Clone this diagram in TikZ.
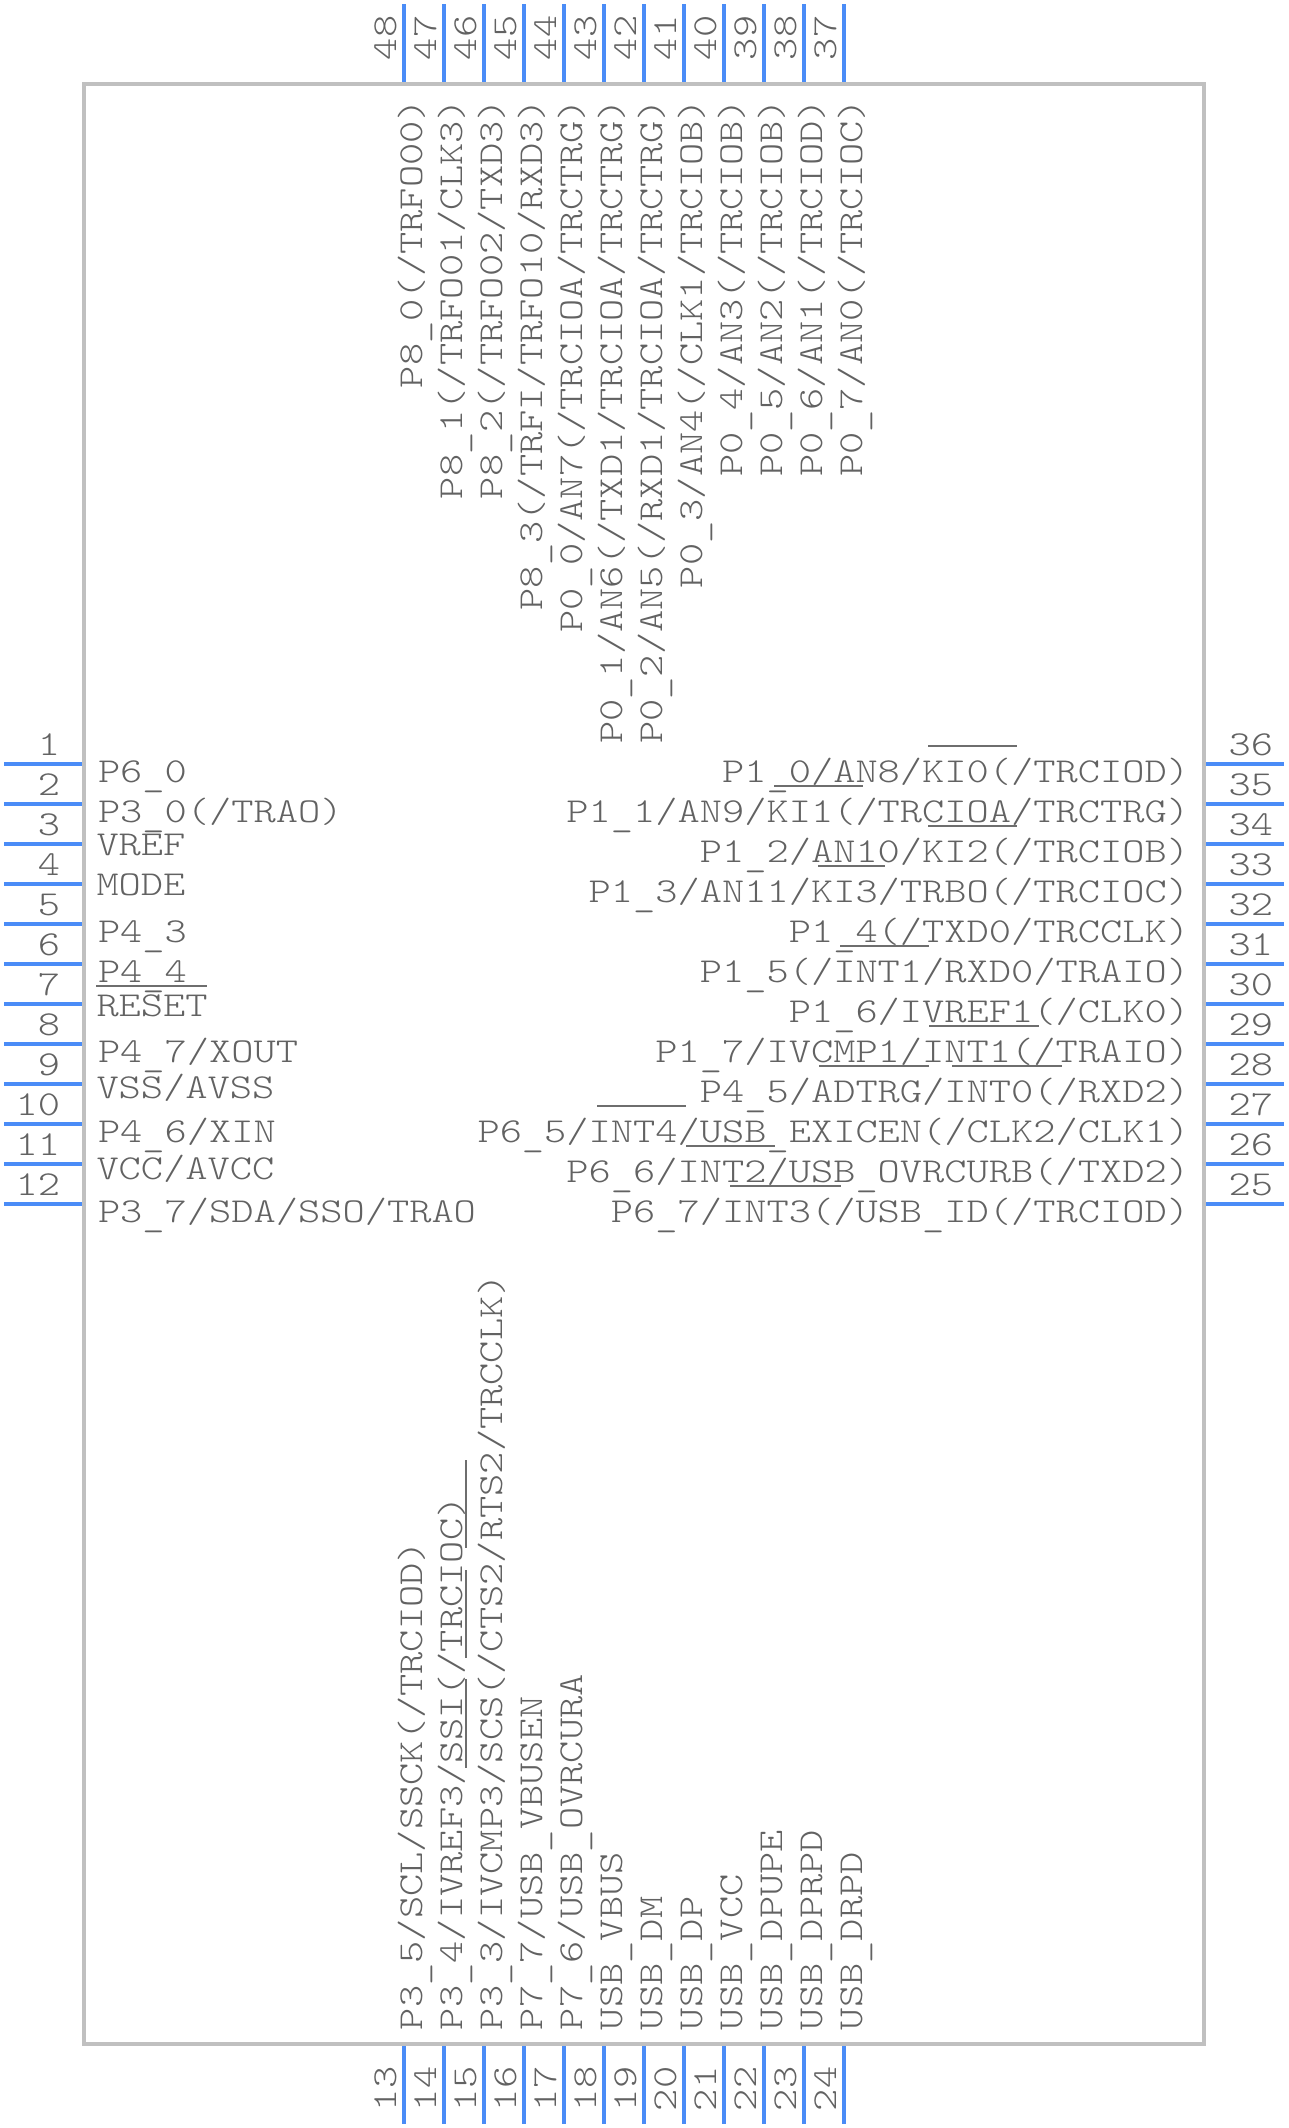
\documentclass[tikz,border=0pt]{standalone}
\usepackage{fontspec}
\newfontfamily\pinfont[FakeStretch=1.21]{Latin Modern Mono Light}
\usetikzlibrary{calc}
\definecolor{pinblue}{HTML}{4A8CF7}
\definecolor{boxgray}{HTML}{C0C0C0}
\definecolor{txtgray}{HTML}{626262}
\definecolor{bargray}{HTML}{6E6E6E}
\begingroup
\catcode`\_=\active
\gdef_{\raisebox{-4pt}{\string_}}
\endgroup
\AtBeginDocument{\catcode`\_=\active}
\tikzset{
  x=1pt,y=-1pt,
  pinline/.style={draw=pinblue,line width=4pt},
  body/.style={draw=boxgray,line width=4pt},
  bar/.style={draw=bargray,line width=2pt},
  lbl/.style={inner sep=0pt,outer sep=0pt,text=txtgray,font=\pinfont\fontsize{35}{35}\selectfont},
}
\begin{document}
\begin{tikzpicture}
\useasboundingbox (0,0) rectangle (1288,2128);
\draw[body] (84,84) rectangle (1204,2044);
% left
\foreach \n/\t/\xx/\off [count=\i from 0] in {1/{P6_0}/98/18.5,2/{P3_0(/TRAO)}/98/18.5,3/{VREF}/96.5/11.5,4/{MODE}/96.5/12,5/{P4_3}/98/18.5,6/{P4_4}/98/18.5,7/{RESET}/96.5/12.5,8/{P4_7/XOUT}/98/18.5,9/{VSS/AVSS}/96.5/14.5,10/{P4_6/XIN}/98/18.5,11/{VCC/AVCC}/96.5/15.5,12/{P3_7/SDA/SSO/TRAO}/98/18.5}{
  \coordinate (la\n) at (4,763.7+40*\i);
  \coordinate (lb\n) at (82,763.7+40*\i);
  \draw[pinline] (la\n) -- (lb\n);
  \node[lbl,anchor=base east] (ln\n) at (60,755.7+40*\i) {\n};
  \node[lbl,anchor=base west] (lt\n) at (\xx,763.7+40*\i+\off) {\t};
}
% right
\foreach \n/\t [count=\i from 0] in {36/{P1_0/AN8/KI0(/TRCIOD)},35/{P1_1/AN9/KI1(/TRCIOA/TRCTRG)},34/{P1_2/AN10/KI2(/TRCIOB)},33/{P1_3/AN11/KI3/TRBO(/TRCIOC)},32/{P1_4(/TXD0/TRCCLK)},31/{P1_5(/INT1/RXD0/TRAIO)},30/{P1_6/IVREF1(/CLK0)},29/{P1_7/IVCMP1/INT1(/TRAIO)},28/{P4_5/ADTRG/INT0(/RXD2)},27/{P6_5/INT4/USB_EXICEN(/CLK2/CLK1)},26/{P6_6/INT2/USB_OVRCURB(/TXD2)},25/{P6_7/INT3(/USB_ID(/TRCIOD)}}{
  \coordinate (la\n) at (1206,763.7+40*\i);
  \coordinate (lb\n) at (1284,763.7+40*\i);
  \draw[pinline] (la\n) -- (lb\n);
  \node[lbl,anchor=base east] (ln\n) at (1273,755.7+40*\i) {\n};
  \node[lbl,anchor=base east] (lt\n) at (1189,782.2+40*\i) {\t};
}
% top
\foreach \n/\t [count=\i from 0] in {48/{P8_0(/TRFO00)},47/{P8_1(/TRFO01/CLK3)},46/{P8_2(/TRFO02/TXD3)},45/{P8_3(/TRFI/TRFO10/RXD3)},44/{P0_0/AN7(/TRCIOA/TRCTRG)},43/{P0_1/AN6(/TXD1/TRCIOA/TRCTRG)},42/{P0_2/AN5(/RXD1/TRCIOA/TRCTRG)},41/{P0_3/AN4(/CLK1/TRCIOB)},40/{P0_4/AN3(/TRCIOB)},39/{P0_5/AN2(/TRCIOB)},38/{P0_6/AN1(/TRCIOD)},37/{P0_7/AN0(/TRCIOC)}}{
  \coordinate (la\n) at (404+40*\i,4);
  \coordinate (lb\n) at (404+40*\i,82);
  \draw[pinline] (la\n) -- (lb\n);
  \node[lbl,rotate=90,anchor=base west] (ln\n) at (396+40*\i,60) {\n};
  \node[lbl,rotate=90,anchor=base east] (lt\n) at (422+40*\i,99) {\t};
}
% bottom
\foreach \n/\t [count=\i from 0] in {13/{P3_5/SCL/SSCK(/TRCIOD)},14/{P3_4/IVREF3/SSI(/TRCIOC)},15/{P3_3/IVCMP3/SCS(/CTS2/RTS2/TRCCLK)},16/{P7_7/USB_VBUSEN},17/{P7_6/USB_OVRCURA},18/{USB_VBUS},19/{USB_DM},20/{USB_DP},21/{USB_VCC},22/{USB_DPUPE},23/{USB_DPRPD},24/{USB_DRPD}}{
  \coordinate (la\n) at (404+40*\i,2046);
  \coordinate (lb\n) at (404+40*\i,2124);
  \draw[pinline] (la\n) -- (lb\n);
  \node[lbl,rotate=90,anchor=base west] (ln\n) at (396+40*\i,2111) {\n};
  \node[lbl,rotate=90,anchor=base west] (lt\n) at (422+40*\i,2030) {\t};
}
% overbars
\draw[bar] (96,986) -- (207,986);
\draw[bar] (928,745.5) -- (1017,745.5);
\draw[bar] (774,785.7) -- (863,785.7);
\draw[bar] (928,825.7) -- (1017,825.7);
\draw[bar] (818,865.7) -- (885,865.7);
\draw[bar] (840,945.7) -- (929,945.7);
\draw[bar] (929,1025.7) -- (1039,1025.7);
\draw[bar] (819,1065.7) -- (929,1065.7);
\draw[bar] (952,1065.7) -- (1062,1065.7);
\draw[bar] (597,1105.7) -- (686,1105.7);
\draw[bar] (686,1145.7) -- (775,1145.7);
\draw[bar] (730,1185.7) -- (841,1185.7);
\draw[bar] (465.7,1460) -- (465.7,1548);
\draw[bar] (465.7,1570) -- (465.7,1658);
\draw[bar] (465.7,1679) -- (465.7,1768);
\end{tikzpicture}
\end{document}
